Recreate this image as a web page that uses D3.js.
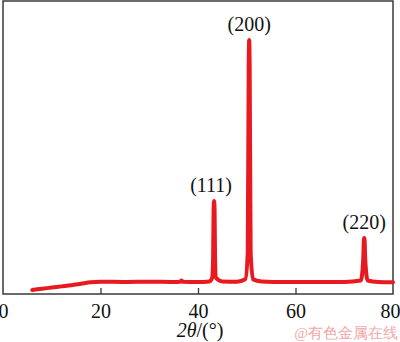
<!DOCTYPE html>
<html>
<head>
<meta charset="utf-8">
<script src="https://cdn.jsdelivr.net/npm/d3@7"></script>
<style>
  body { margin: 0; background: #fff; }
  text { font-family: "Liberation Serif", "Times New Roman", serif; }
</style>
</head>
<body>
<div id="chart"></div>
<script>
// XRD pattern data
var twoTheta = [6, 8, 10, 12, 14, 16, 18, 20, 25, 30, 35, 36.3, 36.6, 36.9, 40, 42.3,
  42.9, 43.1, 43.2, 43.3, 43.4, 43.5, 43.7, 45, 48, 49.7, 50.2, 50.4, 50.5, 50.6, 50.8, 51.3, 53, 58,
  65, 70, 73.4, 73.9, 74.0, 74.1, 74.2, 74.3, 74.8, 77, 80];
var intensity = [14, 18, 22, 26, 30, 35, 40, 42, 41, 42, 41, 42, 46, 42, 41, 43,
  55, 120, 290, 317, 290, 120, 55, 43, 42, 50, 140, 780, 867, 780, 140, 50, 43, 41,
  41, 41, 46, 120, 175, 191, 175, 120, 46, 41, 40];

var peakLabels = ["(111)", "(200)", "(220)"];
var peakPos = [43.3, 50.5, 74.1];
var peakHeight = [317, 867, 191];

var xTicks = [0, 20, 40, 60, 80];

var svgWidth = 400;
var svgHeight = 342;

var svg = d3.select("#chart")
  .append("svg")
  .attr("width", svgWidth)
  .attr("height", svgHeight);

var x = d3.scaleLinear().domain([0, 80]).range([3, 393]);
var y = d3.scaleLinear().domain([0, 1000]).range([294, 1]);

// frame
svg.append("rect")
  .attr("x", x(0))
  .attr("y", y(1000))
  .attr("width", x(80) - x(0))
  .attr("height", y(0) - y(1000))
  .attr("fill", "none")
  .attr("stroke", "#3a3a3a")
  .attr("stroke-width", 1.5);

// bottom axis, ticks pointing in
var bottomAxis = d3.axisBottom(x)
  .tickValues(xTicks)
  .tickSizeInner(-6)
  .tickSizeOuter(0)
  .tickPadding(10);

var axisG = svg.append("g")
  .attr("transform", `translate(0, ${y(0)})`)
  .call(bottomAxis);
axisG.select(".domain").remove();
axisG.selectAll(".tick line")
  .attr("stroke", "#3a3a3a")
  .attr("stroke-width", 1.3)
  .attr("display", d => (d === 0 || d === 80) ? "none" : null);
axisG.selectAll(".tick text")
  .attr("font-family", "Liberation Serif, Times New Roman, serif")
  .attr("font-size", 20)
  .attr("fill", "#111")
  .attr("dx", d => d === 80 ? -3 : 0);

// x axis label
var xl = svg.append("text")
  .attr("x", 200)
  .attr("y", 337)
  .attr("text-anchor", "middle")
  .attr("font-size", 20)
  .attr("fill", "#111");
xl.append("tspan").attr("font-style", "italic").text("2θ");
xl.append("tspan").text("/(°)");

// pattern line
var pts = twoTheta.map((t, i) => [t, intensity[i]]);
var line = d3.line()
  .curve(d3.curveMonotoneX)
  .x(d => x(d[0]))
  .y(d => y(d[1]));

svg.append("path")
  .datum(pts)
  .attr("d", line)
  .attr("fill", "none")
  .attr("stroke", "#e8191f")
  .attr("stroke-width", 4)
  .attr("stroke-linejoin", "round")
  .attr("stroke-linecap", "round");

// peak labels
svg.selectAll(".peak")
  .data(peakLabels)
  .enter()
  .append("text")
  .attr("class", "peak")
  .attr("x", (d, i) => x(peakPos[i]) - (i === 0 ? 3 : 0))
  .attr("y", (d, i) => y(peakHeight[i]) - 9)
  .attr("text-anchor", "middle")
  .attr("font-size", 20)
  .attr("fill", "#111")
  .text(d => d);

// watermark
svg.append("text")
  .attr("x", 398)
  .attr("y", 338)
  .attr("text-anchor", "end")
  .attr("font-family", "Noto Sans CJK SC, sans-serif")
  .attr("font-size", 15)
  .attr("fill", "#f2a7a7")
  .text("@有色金属在线");
</script>
</body>
</html>
